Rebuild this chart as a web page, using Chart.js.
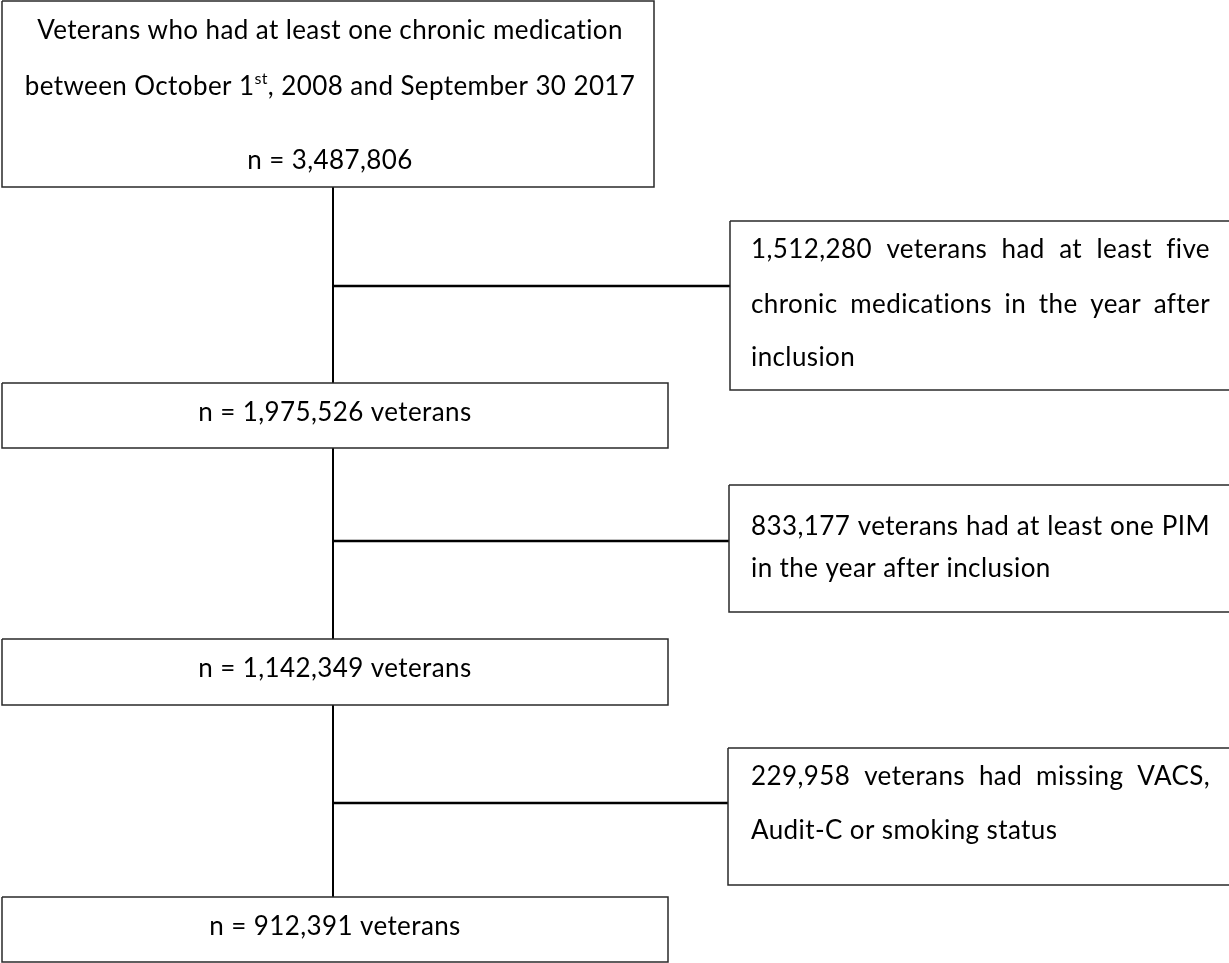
<!DOCTYPE html>
<html>
<head>
<meta charset="utf-8">
<script src="https://cdn.jsdelivr.net/npm/chart.js@4.4.1/dist/chart.umd.min.js"></script>
<style>
  html, body { margin: 0; padding: 0; background: #fff; }
  canvas { display: block; }
</style>
</head>
<body>
<canvas id="flow" width="1229" height="963"></canvas>
<script>
// --- data ---
const stageCounts = [3487806, 1975526, 1142349, 912391];
const excludedCounts = [1512280, 833177, 229958];
const excludedReasons = [
    'had at least five\nchronic medications in the year after\ninclusion',
    'had at least one PIM\nin the year after inclusion',
    'had missing VACS,\nAudit-C or smoking status'
];
const firstStageText = [
    'Veterans who had at least one chronic medication',
    'between October 1{st}, 2008 and September 30 2017'
];

// --- layout (pixels on a 1229 x 963 page) ---
const stageBoxes = [
    {x0: 2, y0: 1, x1: 654, y1: 187, cx: 330, lines: [31, 87, 161]},
    {x0: 2, y0: 383, x1: 668, y1: 448, cx: 335, lines: [413]},
    {x0: 2, y0: 639, x1: 668, y1: 705, cx: 335, lines: [669]},
    {x0: 2, y0: 897, x1: 668, y1: 962, cx: 335, lines: [927]}
];
const excludeBoxes = [
    {x0: 730, y0: 221, x1: 1234, y1: 390, lines: [250, 305, 358]},
    {x0: 729, y0: 485, x1: 1234, y1: 612, lines: [527, 569]},
    {x0: 728, y0: 748, x1: 1234, y1: 885, lines: [777, 831]}
];
const trunkX = 333;
const branchY = [286, 541, 803];
const exclTextLeft = 751;
const exclTextWidth = 459;
const FONT = '26px Lato';
const SUP_FONT = '16px Lato';
const SPACING = '0.4px';

let fmt = function (n) {
    return n.toLocaleString('en-US');
};

let stageLines = function (i) {
    if (i === 0) return firstStageText.concat(['n = ' + fmt(stageCounts[0])]);
    return ['n = ' + fmt(stageCounts[i]) + ' veterans'];
};

let excludeLines = function (i) {
    return (fmt(excludedCounts[i]) + ' veterans ' + excludedReasons[i]).split('\n');
};

let rectPoints = function (b) {
    return [
        {x: b.x0, y: b.y0}, {x: b.x1, y: b.y0},
        {x: b.x1, y: b.y1}, {x: b.x0, y: b.y1}, {x: b.x0, y: b.y0}
    ];
};

let datasets = [];

stageBoxes.concat(excludeBoxes).forEach(function (b) {
    datasets.push({
        data: rectPoints(b),
        borderColor: '#2a2a2a',
        borderWidth: 1.5
    });
});

// vertical connectors between the stage boxes
for (let i = 0; i < stageBoxes.length - 1; i++) {
    datasets.push({
        data: [{x: trunkX, y: stageBoxes[i].y1}, {x: trunkX, y: stageBoxes[i + 1].y0}],
        borderColor: '#000',
        borderWidth: 2
    });
}

// branches to the exclusion boxes
branchY.forEach(function (by, i) {
    datasets.push({
        data: [{x: trunkX, y: by}, {x: excludeBoxes[i].x0, y: by}],
        borderColor: '#000',
        borderWidth: 2.5
    });
});

datasets.forEach(function (d) {
    d.showLine = true;
    d.pointRadius = 0;
    d.fill = false;
    d.clip = false;
    d.tension = 0;
});

// split "1{st}" into normal / superscript parts
let parseRich = function (str) {
    let parts = [];
    let re = /\{([^}]*)\}/g;
    let last = 0, m;
    while ((m = re.exec(str)) !== null) {
        if (m.index > last) parts.push({t: str.slice(last, m.index), sup: false});
        parts.push({t: m[1], sup: true});
        last = re.lastIndex;
    }
    if (last < str.length) parts.push({t: str.slice(last), sup: false});
    return parts;
};

let drawCentered = function (ctx, str, cx, cy) {
    let parts = parseRich(str);
    let widths = parts.map(function (p) {
        ctx.font = p.sup ? SUP_FONT : FONT;
        return ctx.measureText(p.t).width;
    });
    let total = widths.reduce(function (a, b) { return a + b; }, 0);
    let px = cx - total / 2;
    parts.forEach(function (p, k) {
        ctx.font = p.sup ? SUP_FONT : FONT;
        ctx.fillText(p.t, px, p.sup ? cy - 8 : cy);
        px += widths[k];
    });
};

let drawJustified = function (ctx, str, left, width, cy, last) {
    ctx.font = FONT;
    if (last) {
        ctx.fillText(str, left, cy);
        return;
    }
    let words = str.split(' ');
    let ws = words.map(function (w) { return ctx.measureText(w).width; });
    let sum = ws.reduce(function (a, b) { return a + b; }, 0);
    let gap = (width - sum) / (words.length - 1);
    let px = left;
    words.forEach(function (w, k) {
        ctx.fillText(w, px, cy);
        px += ws[k] + gap;
    });
};

const flowText = {
    id: 'flowText',
    afterDatasetsDraw: function (chart) {
        const ctx = chart.ctx;
        const xs = chart.scales.x, ys = chart.scales.y;
        ctx.save();
        ctx.fillStyle = '#000';
        ctx.textBaseline = 'middle';
        ctx.textAlign = 'left';
        ctx.letterSpacing = SPACING;

        stageBoxes.forEach(function (b, i) {
            stageLines(i).forEach(function (line, k) {
                drawCentered(ctx, line, xs.getPixelForValue(b.cx), ys.getPixelForValue(b.lines[k]));
            });
        });

        excludeBoxes.forEach(function (b, i) {
            let lines = excludeLines(i);
            let left = xs.getPixelForValue(exclTextLeft);
            let w = xs.getPixelForValue(exclTextLeft + exclTextWidth) - left;
            lines.forEach(function (line, k) {
                drawJustified(ctx, line, left, w, ys.getPixelForValue(b.lines[k]), k === lines.length - 1);
            });
        });
        ctx.restore();
    }
};

new Chart(document.getElementById('flow'), {
    type: 'scatter',
    data: {datasets: datasets},
    options: {
        responsive: false,
        animation: false,
        events: [],
        layout: {padding: 0},
        plugins: {
            legend: {display: false},
            tooltip: {enabled: false}
        },
        scales: {
            x: {type: 'linear', min: 0, max: 1229, display: false},
            y: {type: 'linear', min: 0, max: 963, reverse: true, display: false}
        }
    },
    plugins: [flowText]
});
</script>
</body>
</html>
